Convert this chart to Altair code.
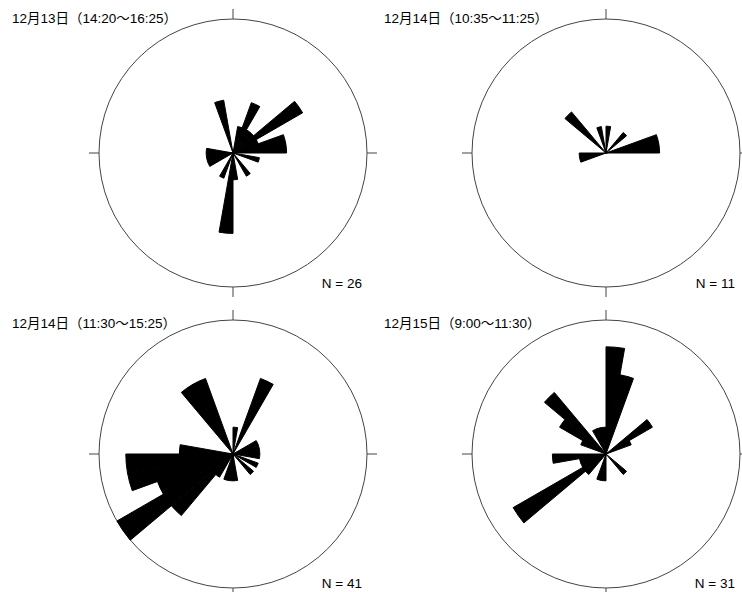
import math

import altair as alt
import pandas as pd

# Observation periods and number of readings in each
titles = [
    "12月13日（14:20～16:25）",
    "12月14日（10:35～11:25）",
    "12月14日（11:30～15:25）",
    "12月15日（9:00～11:30）",
]
totals = [26, 11, 41, 31]

# Counts per 10° direction bin, clockwise from north (0–10°, 10–20°, ...)
counts_dec13 = [0, 1, 2, 1, 1, 3, 1, 2, 2, 0, 1, 0,
                0, 0, 1, 0, 0, 1, 3, 0, 1, 0, 0, 0,
                1, 1, 1, 1, 0, 0, 0, 0, 0, 0, 2, 0]
counts_dec14a = [1, 0, 0, 0, 1, 0, 0, 2, 2, 0, 0, 0,
                 0, 0, 0, 0, 0, 0, 0, 0, 0, 0, 0, 0,
                 0, 1, 1, 0, 0, 0, 0, 2, 0, 0, 1, 0]
counts_dec14b = [1, 0, 3, 0, 0, 0, 1, 1, 1, 1, 0, 1,
                 0, 1, 0, 0, 0, 1, 1, 1, 0, 1, 3, 5,
                 3, 4, 4, 2, 0, 0, 0, 0, 3, 3, 0, 0]
counts_dec15 = [4, 3, 0, 0, 0, 2, 1, 0, 0, 0, 0, 0,
                0, 1, 0, 0, 0, 0, 1, 1, 0, 0, 1, 4,
                1, 1, 2, 0, 0, 1, 2, 3, 0, 1, 1, 1]
all_counts = [counts_dec13, counts_dec14a, counts_dec14b, counts_dec15]

BIN_DEG = 10
RIM_COUNT = 5          # count value that reaches the outer circle

# Layout of the 2x2 grid (pixel centres of each rose)
centre_x = [233, 606, 233, 606]
centre_y = [153, 153, 454, 454]
RADIUS_PX = 134
TICK_PX = 10
W, H = 742, 592

wedges = []
for p, counts in enumerate(all_counts):
    for i, c in enumerate(counts):
        if c > 0:
            wedges.append({"panel": p, "cx": centre_x[p], "cy": centre_y[p],
                           "a0": i * BIN_DEG, "a1": (i + 1) * BIN_DEG, "count": c})
wedges = pd.DataFrame(wedges)

rims = pd.DataFrame({"cx": centre_x, "cy": centre_y, "rim": [RIM_COUNT] * 4})

ticks = []
for p in range(4):
    for ang in (0, 90, 180, 270):
        s, c = math.sin(math.radians(ang)), math.cos(math.radians(ang))
        ticks.append({"x": centre_x[p] + s * RADIUS_PX, "y": centre_y[p] - c * RADIUS_PX,
                      "x2": centre_x[p] + s * (RADIUS_PX + TICK_PX),
                      "y2": centre_y[p] - c * (RADIUS_PX + TICK_PX)})
ticks = pd.DataFrame(ticks)

labels = pd.DataFrame({
    "title": titles,
    "n": [f"N = {n}" for n in totals],
    "tx": [12, 384, 12, 384],
    "ty": [23, 23, 328, 328],
    "nx": [362, 735, 362, 735],
    "ny": [288, 288, 588, 588],
})

px = dict(scale=None, axis=None)
theta_scale = alt.Scale(domain=[0, 360], range=[0, 2 * math.pi])
radius_scale = alt.Scale(type="linear", domain=[0, RIM_COUNT], range=[0, RADIUS_PX], zero=True)
FONT = "Liberation Sans, Noto Sans CJK JP, sans-serif"

rose = alt.Chart(wedges).mark_arc(fill="black", stroke="black", strokeWidth=1,
                                  strokeJoin="miter").encode(
    x=alt.X("cx:Q", **px),
    y=alt.Y("cy:Q", **px),
    theta=alt.Theta("a0:Q", stack=None, scale=theta_scale),
    theta2="a1:Q",
    radius=alt.Radius("count:Q", stack=None, scale=radius_scale),
)

rim = alt.Chart(rims).mark_arc(filled=False, color="#444444", strokeWidth=1,
                               theta=0, theta2=2 * math.pi).encode(
    x=alt.X("cx:Q", **px),
    y=alt.Y("cy:Q", **px),
    radius=alt.Radius("rim:Q", stack=None, scale=radius_scale),
)

tick_marks = alt.Chart(ticks).mark_rule(color="#444444", strokeWidth=1).encode(
    x=alt.X("x:Q", **px), y=alt.Y("y:Q", **px),
    x2="x2:Q", y2="y2:Q",
)

title_text = alt.Chart(labels).mark_text(align="left", baseline="alphabetic",
                                         font=FONT, fontSize=13.5, color="black").encode(
    x=alt.X("tx:Q", **px), y=alt.Y("ty:Q", **px), text="title:N",
)

n_text = alt.Chart(labels).mark_text(align="right", baseline="alphabetic",
                                     font=FONT, fontSize=13.5, color="black").encode(
    x=alt.X("nx:Q", **px), y=alt.Y("ny:Q", **px), text="n:N",
)

chart = alt.layer(rim, tick_marks, rose, title_text, n_text).properties(
    width=W, height=H, padding=0,
    autosize=alt.AutoSizeParams(type="none"),
).configure_view(stroke=None)

chart.save("out.html", embed_options={"renderer": "svg", "actions": False})
